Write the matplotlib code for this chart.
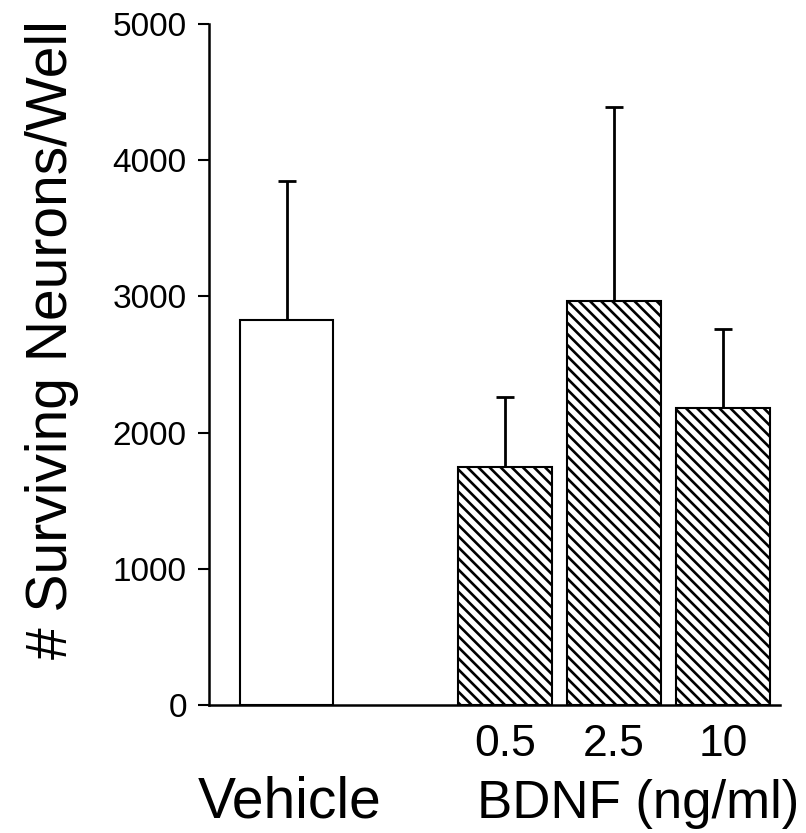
import matplotlib
matplotlib.use('Agg')
import matplotlib.pyplot as plt

# ---- data ----
categories = ['Vehicle', '0.5', '2.5', '10']
positions = [0, 2, 3, 4]
means = [2830, 1750, 2965, 2178]
upper_err = [1017, 513, 1425, 579]
hatched = [False, True, True, True]
yticks = [0, 1000, 2000, 3000, 4000, 5000]
ylabel = '# Surviving Neurons/Well'
group_label = 'BDNF (ng/ml)'

plt.rcParams['font.family'] = ['Liberation Sans', 'DejaVu Sans']
plt.rcParams['hatch.linewidth'] = 1.9

W, H = 806, 833
fig = plt.figure(figsize=(W / 100, H / 100), dpi=100)
ax = fig.add_axes([209 / W, 1 - 705 / H, (780 - 209) / W, (705 - 24) / H])

for p, m, e, h in zip(positions, means, upper_err, hatched):
    ax.bar(p, m, width=0.86, facecolor='white', edgecolor='black',
           linewidth=1.5, hatch='\\\\\\' if h else None, zorder=2)
    ax.errorbar(p, m, yerr=[[0], [e]], fmt='none', ecolor='black',
                elinewidth=2, capsize=6.5, capthick=2, zorder=1)

ax.set_xlim(-0.71, 4.52)
ax.set_ylim(0, 5000)
ax.set_yticks(yticks)
ax.set_yticklabels([str(t) for t in yticks], fontsize=24)
ax.tick_params(axis='y', direction='out', length=8, width=1.5, pad=8)
ax.set_xticks(positions[1:])
ax.set_xticklabels(categories[1:], fontsize=32)
ax.tick_params(axis='x', length=0, pad=14)
for s in ['top', 'right']:
    ax.spines[s].set_visible(False)
ax.spines['left'].set_linewidth(1.8)
ax.spines['bottom'].set_linewidth(1.8)

fig.text(290 / W, 1 - 818 / H, categories[0], fontsize=41, ha='center', va='baseline')
fig.text(638 / W, 1 - 818 / H, group_label, fontsize=38, ha='center', va='baseline')
fig.text(52 / W, 1 - 340 / H, ylabel, fontsize=41, rotation=90, ha='center', va='center')

fig.savefig('out.png', dpi=100, facecolor='white')
